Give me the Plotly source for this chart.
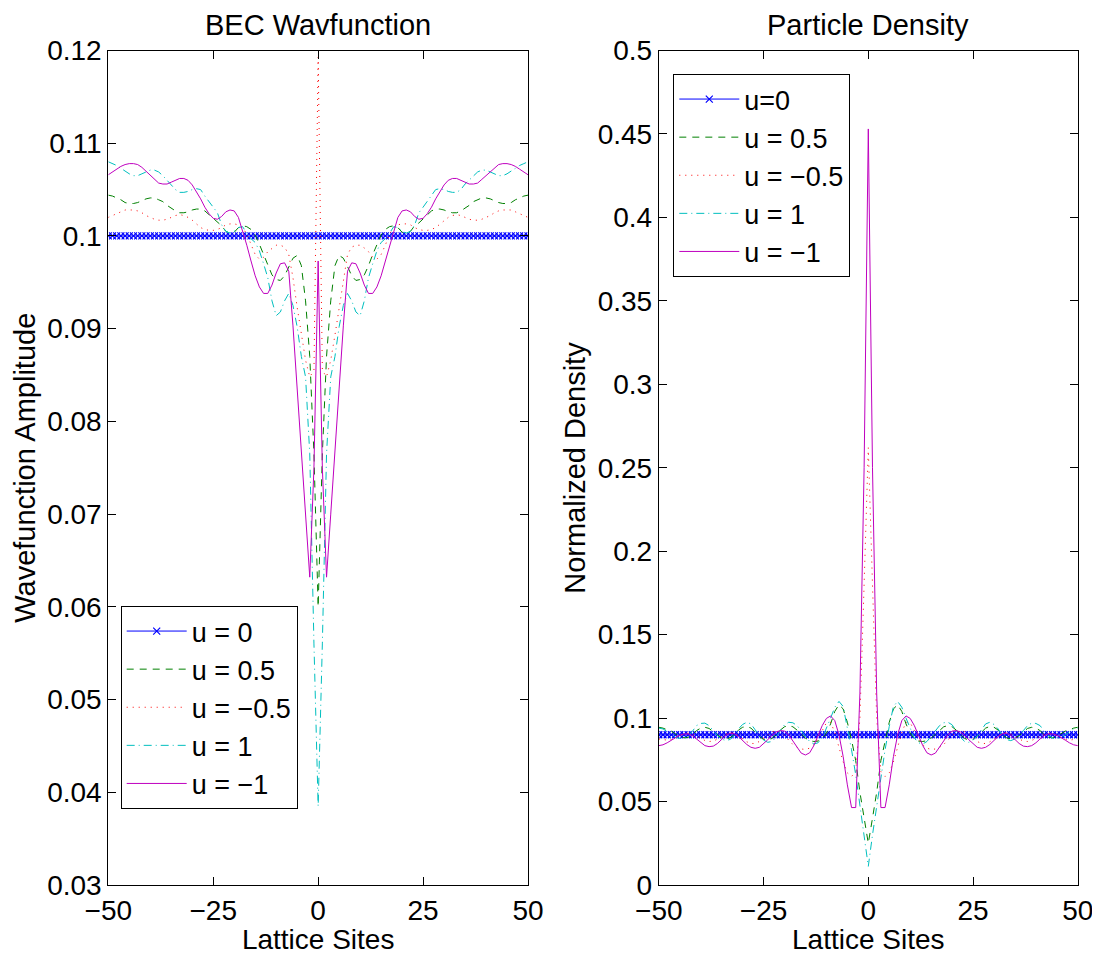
import plotly.graph_objects as go

# ---------------- data ----------------
sites = list(range(-50, 51))

# Left panel: BEC wavefunction amplitude
bec_u0 = [0.1] * 101
bec_u05 = [0.1044, 0.1043, 0.1041, 0.1039, 0.1036, 0.1035, 0.1035, 0.1036, 0.1038, 0.1040,
           0.1041, 0.1041, 0.1039, 0.1037, 0.1033, 0.1030, 0.1027, 0.1025, 0.1025, 0.1026,
           0.1028, 0.1029, 0.1029, 0.1027, 0.1023, 0.1018, 0.1014, 0.1011, 0.1005, 0.1003,
           0.1004, 0.1009, 0.1011, 0.1010, 0.1007, 0.1001, 0.0991, 0.0980, 0.0968, 0.0958,
           0.0953, 0.0952, 0.0957, 0.0967, 0.0976, 0.0979, 0.0968, 0.0930, 0.0870, 0.0765,
           0.0600,
           0.0765, 0.0870, 0.0930, 0.0968, 0.0979, 0.0976, 0.0967, 0.0957, 0.0952, 0.0953,
           0.0958, 0.0968, 0.0980, 0.0991, 0.1001, 0.1007, 0.1010, 0.1011, 0.1009, 0.1004,
           0.1003, 0.1005, 0.1011, 0.1014, 0.1018, 0.1023, 0.1027, 0.1029, 0.1029, 0.1028,
           0.1026, 0.1025, 0.1025, 0.1027, 0.1030, 0.1033, 0.1037, 0.1039, 0.1041, 0.1041,
           0.1040, 0.1038, 0.1036, 0.1035, 0.1035, 0.1036, 0.1039, 0.1041, 0.1043, 0.1044]
bec_um05 = [0.1020, 0.1022, 0.1024, 0.1026, 0.1028, 0.1028, 0.1028, 0.1027, 0.1025, 0.1022,
            0.1020, 0.1018, 0.1017, 0.1017, 0.1018, 0.1020, 0.1022, 0.1023, 0.1022, 0.1020,
            0.1017, 0.1013, 0.1009, 0.1007, 0.1006, 0.1006, 0.1007, 0.1009, 0.1012, 0.1013,
            0.1013, 0.1012, 0.1009, 0.1002, 0.0990, 0.0980, 0.0975, 0.0977, 0.0983, 0.0987,
            0.0990, 0.0990, 0.0988, 0.0980, 0.0955, 0.0923, 0.0893, 0.0866, 0.0848, 0.0855,
            0.1193,
            0.0855, 0.0848, 0.0866, 0.0893, 0.0923, 0.0955, 0.0980, 0.0988, 0.0990, 0.0990,
            0.0987, 0.0983, 0.0977, 0.0975, 0.0980, 0.0990, 0.1002, 0.1009, 0.1012, 0.1013,
            0.1013, 0.1012, 0.1009, 0.1007, 0.1006, 0.1006, 0.1007, 0.1009, 0.1013, 0.1017,
            0.1020, 0.1022, 0.1023, 0.1022, 0.1020, 0.1018, 0.1017, 0.1017, 0.1018, 0.1020,
            0.1022, 0.1025, 0.1027, 0.1028, 0.1028, 0.1028, 0.1026, 0.1024, 0.1022, 0.1020]
bec_u1 = [0.1080, 0.1078, 0.1076, 0.1073, 0.1070, 0.1067, 0.1065, 0.1065, 0.1067, 0.1069,
          0.1071, 0.1071, 0.1069, 0.1065, 0.1060, 0.1056, 0.1050, 0.1047, 0.1047, 0.1048,
          0.1050, 0.1051, 0.1050, 0.1043, 0.1037, 0.1031, 0.1025, 0.1012, 0.1005, 0.1003,
          0.1005, 0.1009, 0.1010, 0.1003, 0.0997, 0.0993, 0.0984, 0.0970, 0.0955, 0.0930,
          0.0914, 0.0918, 0.0930, 0.0938, 0.0925, 0.0902, 0.0870, 0.0848, 0.0765, 0.0560,
          0.0385,
          0.0560, 0.0765, 0.0848, 0.0870, 0.0902, 0.0925, 0.0938, 0.0930, 0.0918, 0.0914,
          0.0930, 0.0955, 0.0970, 0.0984, 0.0993, 0.0997, 0.1003, 0.1010, 0.1009, 0.1005,
          0.1003, 0.1005, 0.1012, 0.1025, 0.1031, 0.1037, 0.1043, 0.1050, 0.1051, 0.1050,
          0.1048, 0.1047, 0.1047, 0.1050, 0.1056, 0.1060, 0.1065, 0.1069, 0.1071, 0.1071,
          0.1069, 0.1067, 0.1065, 0.1065, 0.1067, 0.1070, 0.1073, 0.1076, 0.1078, 0.1080]
bec_um1 = [0.1066, 0.1069, 0.1072, 0.1075, 0.1077, 0.1078, 0.1078, 0.1077, 0.1074, 0.1070,
           0.1065, 0.1061, 0.1057, 0.1056, 0.1056, 0.1058, 0.1060, 0.1062, 0.1062, 0.1060,
           0.1055, 0.1048, 0.1040, 0.1031, 0.1024, 0.1019, 0.1018, 0.1021, 0.1026, 0.1028,
           0.1027, 0.1020, 0.1006, 0.0990, 0.0973, 0.0957, 0.0945, 0.0938, 0.0938, 0.0947,
           0.0960, 0.0970, 0.0971, 0.0962, 0.0903, 0.0838, 0.0770, 0.0700, 0.0632, 0.0750,
           0.0973,
           0.0750, 0.0632, 0.0700, 0.0770, 0.0838, 0.0903, 0.0962, 0.0971, 0.0970, 0.0960,
           0.0947, 0.0938, 0.0938, 0.0945, 0.0957, 0.0973, 0.0990, 0.1006, 0.1020, 0.1027,
           0.1028, 0.1026, 0.1021, 0.1018, 0.1019, 0.1024, 0.1031, 0.1040, 0.1048, 0.1055,
           0.1060, 0.1062, 0.1062, 0.1060, 0.1058, 0.1056, 0.1056, 0.1057, 0.1061, 0.1065,
           0.1070, 0.1074, 0.1077, 0.1078, 0.1078, 0.1077, 0.1075, 0.1072, 0.1069, 0.1066]

# Right panel: normalized particle density
den_u0 = [0.09] * 101
den_u05 = [0.0945, 0.0940, 0.0930, 0.0922, 0.0905, 0.0890, 0.0882, 0.0885, 0.0900, 0.0925,
           0.0940, 0.0945, 0.0938, 0.0918, 0.0895, 0.0880, 0.0875, 0.0882, 0.0902, 0.0928,
           0.0945, 0.0950, 0.0940, 0.0915, 0.0890, 0.0872, 0.0868, 0.0878, 0.0900, 0.0928,
           0.0948, 0.0955, 0.0948, 0.0928, 0.0902, 0.0880, 0.0865, 0.0860, 0.0862, 0.0875,
           0.0910, 0.0965, 0.1040, 0.1080, 0.1055, 0.0975, 0.0870, 0.0745, 0.0555, 0.0400,
           0.0250,
           0.0400, 0.0555, 0.0745, 0.0870, 0.0975, 0.1055, 0.1080, 0.1040, 0.0965, 0.0910,
           0.0875, 0.0862, 0.0860, 0.0865, 0.0880, 0.0902, 0.0928, 0.0948, 0.0955, 0.0948,
           0.0928, 0.0900, 0.0878, 0.0868, 0.0872, 0.0890, 0.0915, 0.0940, 0.0950, 0.0945,
           0.0928, 0.0902, 0.0882, 0.0875, 0.0880, 0.0895, 0.0918, 0.0938, 0.0945, 0.0940,
           0.0925, 0.0900, 0.0885, 0.0882, 0.0890, 0.0905, 0.0922, 0.0930, 0.0940, 0.0945]
den_um05 = [0.0875, 0.0870, 0.0868, 0.0872, 0.0882, 0.0895, 0.0905, 0.0910, 0.0905, 0.0892,
            0.0878, 0.0866, 0.0860, 0.0862, 0.0874, 0.0890, 0.0905, 0.0913, 0.0910, 0.0895,
            0.0875, 0.0858, 0.0848, 0.0848, 0.0860, 0.0880, 0.0902, 0.0918, 0.0922, 0.0915,
            0.0895, 0.0868, 0.0842, 0.0825, 0.0815, 0.0812, 0.0820, 0.0840, 0.0875, 0.0925,
            0.0972, 0.0975, 0.0915, 0.0825, 0.0738, 0.0672, 0.0650, 0.0680, 0.1000, 0.1800,
            0.2620,
            0.1800, 0.1000, 0.0680, 0.0650, 0.0672, 0.0738, 0.0825, 0.0915, 0.0975, 0.0972,
            0.0925, 0.0875, 0.0840, 0.0820, 0.0812, 0.0815, 0.0825, 0.0842, 0.0868, 0.0895,
            0.0915, 0.0922, 0.0918, 0.0902, 0.0880, 0.0860, 0.0848, 0.0848, 0.0858, 0.0875,
            0.0895, 0.0910, 0.0913, 0.0905, 0.0890, 0.0874, 0.0862, 0.0860, 0.0866, 0.0878,
            0.0892, 0.0905, 0.0910, 0.0905, 0.0895, 0.0882, 0.0872, 0.0868, 0.0870, 0.0875]
den_u1 = [0.0940, 0.0935, 0.0920, 0.0900, 0.0885, 0.0878, 0.0880, 0.0895, 0.0920, 0.0955,
          0.0968, 0.0970, 0.0955, 0.0925, 0.0895, 0.0875, 0.0865, 0.0872, 0.0895, 0.0935,
          0.0962, 0.0975, 0.0965, 0.0930, 0.0895, 0.0868, 0.0855, 0.0860, 0.0885, 0.0925,
          0.0960, 0.0975, 0.0972, 0.0955, 0.0925, 0.0890, 0.0860, 0.0845, 0.0852, 0.0880,
          0.0935, 0.1000, 0.1065, 0.1100, 0.1070, 0.0950, 0.0810, 0.0660, 0.0480, 0.0300,
          0.0112,
          0.0300, 0.0480, 0.0660, 0.0810, 0.0950, 0.1070, 0.1100, 0.1065, 0.1000, 0.0935,
          0.0880, 0.0852, 0.0845, 0.0860, 0.0890, 0.0925, 0.0955, 0.0972, 0.0975, 0.0960,
          0.0925, 0.0885, 0.0860, 0.0855, 0.0868, 0.0895, 0.0930, 0.0965, 0.0975, 0.0962,
          0.0935, 0.0895, 0.0872, 0.0865, 0.0875, 0.0895, 0.0925, 0.0955, 0.0970, 0.0968,
          0.0955, 0.0920, 0.0895, 0.0880, 0.0878, 0.0885, 0.0900, 0.0920, 0.0935, 0.0940]
den_um1 = [0.0835, 0.0840, 0.0852, 0.0868, 0.0885, 0.0898, 0.0905, 0.0905, 0.0895, 0.0875,
           0.0852, 0.0835, 0.0829, 0.0832, 0.0848, 0.0872, 0.0896, 0.0910, 0.0906, 0.0890,
           0.0866, 0.0842, 0.0825, 0.0819, 0.0825, 0.0845, 0.0870, 0.0897, 0.0917, 0.0925,
           0.0922, 0.0900, 0.0866, 0.0826, 0.0790, 0.0779, 0.0792, 0.0835, 0.0895, 0.0955,
           0.0998, 0.1013, 0.0985, 0.0900, 0.0770, 0.0600, 0.0464, 0.0464, 0.1150, 0.2500,
           0.4530,
           0.2500, 0.1150, 0.0464, 0.0464, 0.0600, 0.0770, 0.0900, 0.0985, 0.1013, 0.0998,
           0.0955, 0.0895, 0.0835, 0.0792, 0.0779, 0.0790, 0.0826, 0.0866, 0.0900, 0.0922,
           0.0925, 0.0917, 0.0897, 0.0870, 0.0845, 0.0825, 0.0819, 0.0825, 0.0842, 0.0866,
           0.0890, 0.0906, 0.0910, 0.0896, 0.0872, 0.0848, 0.0832, 0.0829, 0.0835, 0.0852,
           0.0875, 0.0895, 0.0905, 0.0905, 0.0898, 0.0885, 0.0868, 0.0852, 0.0840, 0.0835]

left_names = ["u = 0", "u = 0.5", "u = \u22120.5", "u = 1", "u = \u22121"]
right_names = ["u=0", "u = 0.5", "u = \u22120.5", "u = 1", "u = \u22121"]

x_ticks = [-50, -25, 0, 25, 50]
x_ticktext = ["\u221250", "\u221225", "0", "25", "50"]
left_yticks = [0.03, 0.04, 0.05, 0.06, 0.07, 0.08, 0.09, 0.1, 0.11, 0.12]
left_yticktext = ["0.03", "0.04", "0.05", "0.06", "0.07", "0.08", "0.09", "0.1", "0.11", "0.12"]
right_yticks = [0, 0.05, 0.1, 0.15, 0.2, 0.25, 0.3, 0.35, 0.4, 0.45, 0.5]
right_yticktext = ["0", "0.05", "0.1", "0.15", "0.2", "0.25", "0.3", "0.35", "0.4", "0.45", "0.5"]

# ---------------- styling ----------------
FONT = "Liberation Sans, Arial, Helvetica, sans-serif"
FS = 28        # tick labels / x titles
TFS = 29       # titles and y-axis labels
LFS = 27       # legend
W, H = 1092, 947          # page body has an 8px margin; figure fills the rest
OFF = 8                   # screen -> figure pixel offset


def px(xs):
    return (xs - OFF) / W


def py(ys):
    return (H - (ys - OFF)) / H


styles = [
    dict(color="#0000ff", dash="solid", marker=True),
    dict(color="#008000", dash="7px,6px", marker=False),
    dict(color="#ff0000", dash="1px,5px", marker=False),
    dict(color="#00bfbf", dash="8px,4px,1px,4px", marker=False),
    dict(color="#bf00bf", dash="solid", marker=False),
]

fig = go.Figure()


def add_series(series, names, xa, ya, legend):
    for vals, name, st in zip(series, names, styles):
        kw = dict(
            x=sites, y=vals, name=name, xaxis=xa, yaxis=ya, legend=legend,
            line=dict(color=st["color"], width=1, dash=st["dash"]),
        )
        if st["marker"]:
            kw["mode"] = "lines+markers"
            kw["marker"] = dict(symbol="x-thin", size=7,
                                line=dict(color=st["color"], width=1.2))
        else:
            kw["mode"] = "lines"
        fig.add_trace(go.Scatter(**kw))


add_series([bec_u0, bec_u05, bec_um05, bec_u1, bec_um1], left_names, "x", "y", "legend")
add_series([den_u0, den_u05, den_um05, den_u1, den_um1], right_names, "x2", "y2", "legend2")

axis_common = dict(
    showline=True, linecolor="black", linewidth=1, mirror="ticks",
    ticks="inside", ticklen=8, tickcolor="black", tickwidth=1,
    showgrid=False, zeroline=False, automargin=False,
    tickfont=dict(family=FONT, size=FS, color="black"),
)

ydom = [py(885), py(50.5)]
ymid = (885 + 50.5) / 2

fig.update_layout(
    width=W, height=H,
    margin=dict(l=0, r=0, t=0, b=0),
    paper_bgcolor="white", plot_bgcolor="white",
    font=dict(family=FONT, size=FS, color="black"),
    xaxis=dict(domain=[px(108.3), px(528)], range=[-50, 50], anchor="y",
               tickvals=x_ticks, ticktext=x_ticktext,
               title=dict(text="Lattice Sites", font=dict(size=FS), standoff=1),
               **axis_common),
    yaxis=dict(domain=ydom, range=[0.03, 0.12], anchor="x",
               tickvals=left_yticks, ticktext=left_yticktext,
               **axis_common),
    xaxis2=dict(domain=[px(658.8), px(1077.8)], range=[-50, 50], anchor="y2",
                tickvals=x_ticks, ticktext=x_ticktext,
                title=dict(text="Lattice Sites", font=dict(size=FS), standoff=1),
                **axis_common),
    yaxis2=dict(domain=ydom, range=[0, 0.5], anchor="x2",
                tickvals=right_yticks, ticktext=right_yticktext,
                **axis_common),
    legend=dict(x=px(120.7), y=py(606), xanchor="left", yanchor="top",
                bgcolor="white", bordercolor="black", borderwidth=1, itemwidth=60,
                font=dict(family=FONT, size=LFS, color="black"), tracegroupgap=0),
    legend2=dict(x=px(673.3), y=py(74), xanchor="left", yanchor="top",
                 bgcolor="white", bordercolor="black", borderwidth=1, itemwidth=60,
                 font=dict(family=FONT, size=LFS, color="black"), tracegroupgap=0),
    annotations=[
        dict(text="BEC Wavfunction", x=px((108.3 + 528) / 2), y=py(25),
             xref="paper", yref="paper", showarrow=False, xanchor="center", yanchor="middle",
             font=dict(family=FONT, size=TFS, color="black")),
        dict(text="Particle Density", x=px((658.8 + 1077.8) / 2), y=py(25),
             xref="paper", yref="paper", showarrow=False, xanchor="center", yanchor="middle",
             font=dict(family=FONT, size=TFS, color="black")),
        dict(text="Wavefunction Amplitude", x=px(25), y=py(ymid), textangle=-90,
             xref="paper", yref="paper", showarrow=False, xanchor="center", yanchor="middle",
             font=dict(family=FONT, size=TFS, color="black")),
        dict(text="Normalized Density", x=px(575), y=py(ymid), textangle=-90,
             xref="paper", yref="paper", showarrow=False, xanchor="center", yanchor="middle",
             font=dict(family=FONT, size=TFS, color="black")),
    ],
)

fig.write_html("out.html")
